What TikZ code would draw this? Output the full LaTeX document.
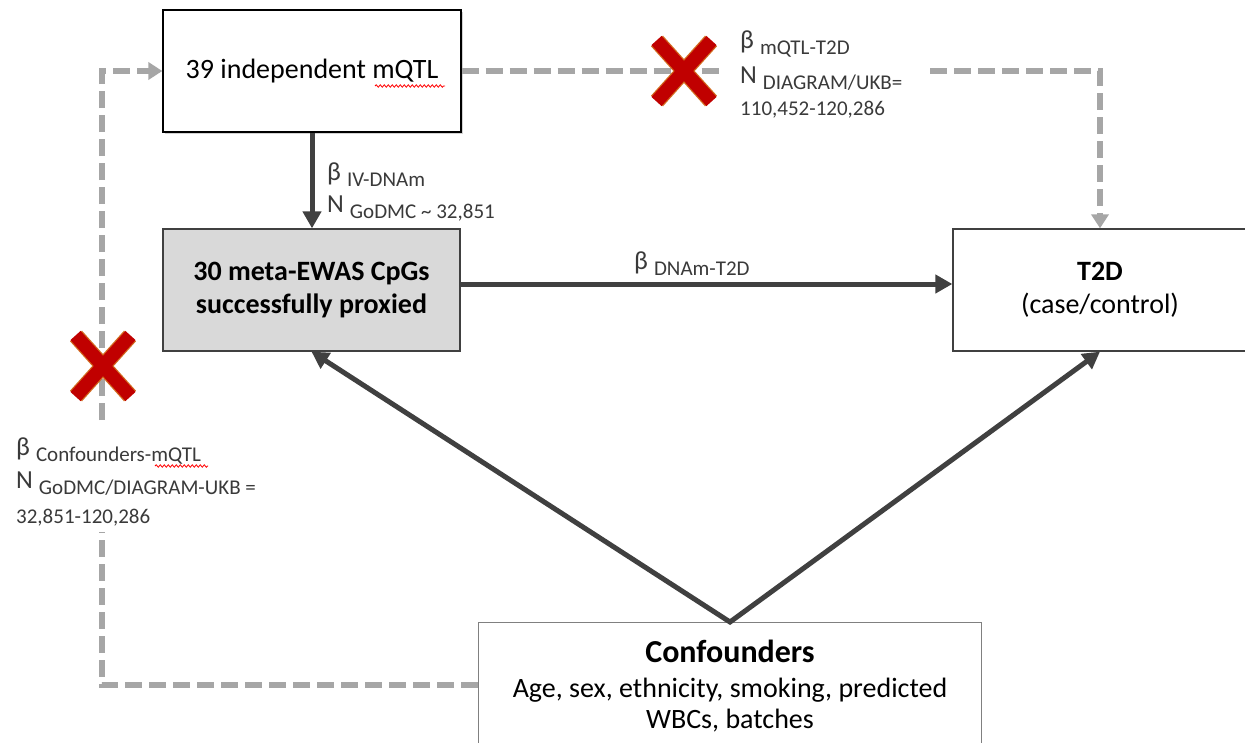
\documentclass[tikz,border=0pt]{standalone}
\usepackage{fontspec}
\setmainfont{Carlito}
\usetikzlibrary{arrows.meta,shadows,decorations.pathmorphing}
\definecolor{darkarrow}{HTML}{404040}
\definecolor{dashgray}{HTML}{A6A6A6}
\definecolor{boxgray}{HTML}{D9D9D9}
\definecolor{xred}{HTML}{C00000}
\definecolor{xedge}{HTML}{D2691E}
\definecolor{labelgray}{HTML}{3A3A3A}
\newcommand\lblbig[1]{{\fontsize{26}{30}\selectfont #1}}
\newcommand\lblsub[1]{\hspace{6pt}\raisebox{-6pt}{#1}}
\tikzset{
  box/.style={draw, line width=1.3pt, inner sep=0pt, align=center, font=\fontsize{28}{33}\selectfont},
  solidarrow/.style={draw=darkarrow, line width=5pt, line join=miter},
  darktip/.tip={Triangle[length=17pt,width=18pt]},
  dashline/.style={draw=dashgray, line width=5.5pt, dash pattern=on 17pt off 7pt},
  graytip/.tip={Triangle[length=14pt,width=17pt]},
  lbl/.style={anchor=base west, inner sep=0pt, text=labelgray, font=\fontsize{21}{25}\selectfont},
  linetxt/.style={anchor=base, inner sep=0pt, font=\fontsize{28}{33}\selectfont},
  squiggle/.style={draw=red, line width=0.8pt, decorate, decoration={snake, amplitude=1.2pt, segment length=4pt}},
  redx/.pic={
    \draw[xedge, line width=16pt] (-27,-30) -- (27,30) (-27,30) -- (27,-30);
    \draw[xred, line width=13.5pt] (-27.5,-30.5) -- (27.5,30.5) (-27.5,30.5) -- (27.5,-30.5);
  }
}
\begin{document}
\begin{tikzpicture}[x=1pt,y=-1pt]
\useasboundingbox[fill=white] (0,0) rectangle (1245,742);

% boxes
\node[box, fill=white, minimum width=298pt, minimum height=122pt,
      drop shadow={shadow xshift=2pt, shadow yshift=-2pt, opacity=0.35}] (mqtl) at (312,71) {39 independent mQTL};
\node[box, fill=boxgray, draw=darkarrow, minimum width=297pt, minimum height=122pt, font=\fontsize{28}{33}\selectfont\bfseries] (gray) at (311.5,290) {30 meta-EWAS CpGs\\successfully proxied};
\node[box, fill=white, draw=darkarrow, minimum width=294pt, minimum height=122pt] (t2d) at (1100,290) {\textbf{T2D}\\(case/control)};
\node[box, fill=white, draw=gray, minimum width=503pt, minimum height=140pt, anchor=north] (conf) at (730,622) {};

% confounder text
\node[linetxt, font=\fontsize{32}{36}\selectfont\bfseries] (conft) at (730,662) {Confounders};
\node[linetxt] (confa) at (730,697) {Age, sex, ethnicity, smoking, predicted};
\node[linetxt] (confb) at (730,728) {WBCs, batches};

% coordinates for dashed paths
\coordinate (tgapL) at (723,71);
\coordinate (tgapR) at (930,71);
\coordinate (tcorner) at (1100,71);
\coordinate (lcornerB) at (102,685);
\coordinate (lgapB) at (102,532);
\coordinate (lgapT) at (102,420);
\coordinate (lcornerT) at (102,71);

% dashed connectors
\draw[dashline] (mqtl.east) -- (tgapL);
\draw[dashline, -graytip] (tgapR) -- (tcorner) -- (t2d.north);
\draw[dashline] (lcornerB -| conf.west) -- (lcornerB) -- (lgapB);
\draw[dashline, -graytip] (lgapT) -- (lcornerT) -- (mqtl.west);

% solid connectors
\draw[solidarrow, -darktip] (mqtl.south) -- (mqtl.south |- gray.north);
\draw[solidarrow, -darktip] ([yshift=6pt]gray.east) -- ([yshift=6pt]t2d.west);
\draw[solidarrow, darktip-darktip] (gray.south) -- (conf.north) -- (t2d.south);

% red crosses
\pic (xtop) at (684,71) {redx};
\pic (xleft) at (103,366) {redx};

% labels
\node[lbl] (ivb) at (327,180) {\lblbig{β}\lblsub{IV-DNAm}};
\node[lbl] (ivn) at (327,212) {\lblbig{N}\lblsub{GoDMC \char"7E{} 32,851}};

\node[lbl] (dtb) at (634,269) {\lblbig{β}\lblsub{DNAm-T2D}};

\node[lbl] (mtb) at (740,48) {\lblbig{β}\lblsub{mQTL-T2D}};
\node[lbl] (mtn) at (740,83) {\lblbig{N}\lblsub{DIAGRAM/UKB=}};
\node[lbl] (mtv) at (740,115) {110,452-120,286};

\node[lbl] (cmb) at (16,455) {\lblbig{β}\lblsub{Confounders-mQTL}};
\node[lbl] (cmn) at (16,488) {\lblbig{N}\lblsub{GoDMC/DIAGRAM-UKB =}};
\node[lbl] (cmv) at (16,523) {32,851-120,286};

% spell-check squiggles
\draw[squiggle] (375,86) -- (445,86);
\draw[squiggle] (155,466) -- (208,466);
\end{tikzpicture}
\end{document}
